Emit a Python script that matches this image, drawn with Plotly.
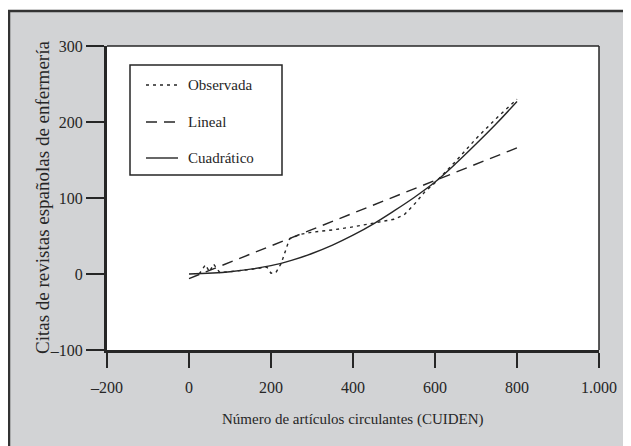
import plotly.graph_objects as go

# ---- data ----
obs_x = [25, 40, 50, 60, 75, 100, 150, 190, 200, 212, 225, 245, 270, 300, 350, 400, 450, 500, 525, 550, 575, 600, 650, 700, 750, 800]
obs_y = [0, 12, 3, 13, 2, 3, 6, 9, 1, 2, 14, 46, 52, 55, 58, 62, 67, 72, 78, 92, 108, 120, 148, 178, 205, 230]

lin_x = [0, 800]
lin_y = [-6, 166]

quad_x = [0, 100, 200, 250, 300, 350, 400, 450, 500, 550, 600, 650, 700, 750, 800]
quad_y = [0, 3, 11, 18, 27, 38, 51, 66, 83, 101, 121, 145, 171, 198, 227]

x_ticks = [-200, 0, 200, 400, 600, 800, 1000]
x_ticktext = ["\u2013200", "0", "200", "400", "600", "800", "1.000"]
y_ticks = [-100, 0, 100, 200, 300]
y_ticktext = ["\u2013100", "0", "100", "200", "300"]

series_names = ["Observada", "Lineal", "Cuadr\u00e1tico"]
x_title = "N\u00famero de art\u00edculos circulantes (CUIDEN)"
y_title = "Citas de revistas espa\u00f1olas de enfermer\u00eda"

# ---- layout constants (page body adds an 8px offset) ----
OFF = 8
W, H = 623, 438
L, R, T, B = 99, 32, 38, 96
PW, PH = W - L - R, H - T - B
INK = "#262626"
FONT = "Liberation Serif"

def px(x):
    # screen pixel x -> paper coordinate
    return (x - OFF - L) / PW

def py(y):
    # screen pixel y -> paper coordinate
    return (T + PH - (y - OFF)) / PH

dot = "3px,4px"
dash = "11px,7px"

fig = go.Figure()
fig.add_trace(go.Scatter(x=obs_x, y=obs_y, mode="lines", name=series_names[0],
                         line=dict(color=INK, width=1.4, dash=dot)))
fig.add_trace(go.Scatter(x=lin_x, y=lin_y, mode="lines", name=series_names[1],
                         line=dict(color=INK, width=1.4, dash=dash)))
fig.add_trace(go.Scatter(x=quad_x, y=quad_y, mode="lines", name=series_names[2],
                         line=dict(color=INK, width=1.4, shape="spline")))

shapes = [
    # grey outer frame
    dict(type="rect", xref="paper", yref="paper", x0=px(9), x1=px(680), y0=py(500), y1=py(11),
         fillcolor="#d2d3d5", line=dict(color="#333333", width=2.5), layer="below"),
    # white plot area
    dict(type="rect", xref="paper", yref="paper", x0=0, x1=1, y0=0, y1=1,
         fillcolor="white", line=dict(width=0), layer="below"),
    # thin top / right border
    dict(type="line", xref="paper", yref="paper", x0=0, x1=1, y0=1, y1=1,
         line=dict(color=INK, width=1.5)),
    dict(type="line", xref="paper", yref="paper", x0=1, x1=1, y0=0, y1=1,
         line=dict(color=INK, width=1.5)),
    # legend box
    dict(type="rect", xref="paper", yref="paper", x0=px(130), x1=px(282), y0=py(175), y1=py(65),
         fillcolor="white", line=dict(color=INK, width=1.5)),
]
leg_y = [85, 122, 158]
leg_dash = [dot, dash, "solid"]
annotations = []
for name, ly, dsh in zip(series_names, leg_y, leg_dash):
    shapes.append(dict(type="line", xref="paper", yref="paper", x0=px(146), x1=px(178),
                       y0=py(ly), y1=py(ly), line=dict(color=INK, width=1.4, dash=dsh)))
    annotations.append(dict(xref="paper", yref="paper", x=px(186), y=py(ly), text=name,
                            showarrow=False, xanchor="left", yanchor="middle",
                            font=dict(family=FONT, size=15, color=INK)))

annotations.append(dict(xref="paper", yref="paper", x=px(353), y=py(420), text=x_title,
                        showarrow=False, xanchor="center", yanchor="middle",
                        font=dict(family=FONT, size=15, color=INK)))
annotations.append(dict(xref="paper", yref="paper", x=px(42), y=py(198), text=y_title,
                        showarrow=False, xanchor="center", yanchor="middle", textangle=-90,
                        font=dict(family=FONT, size=19, color=INK)))

fig.update_layout(
    width=W, height=H,
    margin=dict(l=L, r=R, t=T, b=B, autoexpand=False),
    paper_bgcolor="white",
    plot_bgcolor="rgba(0,0,0,0)",
    showlegend=False,
    font=dict(family=FONT, size=16, color=INK),
    shapes=shapes,
    annotations=annotations,
    xaxis=dict(range=[-200, 1000], tickvals=x_ticks, ticktext=x_ticktext,
               showgrid=False, zeroline=False, showline=True, linewidth=3, linecolor=INK,
               ticks="outside", ticklen=15, tickwidth=1.5, tickcolor=INK,
               ticklabelstandoff=6, tickfont=dict(family=FONT, size=16, color=INK)),
    yaxis=dict(range=[-100, 300], tickvals=y_ticks, ticktext=y_ticktext,
               showgrid=False, zeroline=False, showline=True, linewidth=3, linecolor=INK,
               ticks="outside", ticklen=18, tickwidth=1.5, tickcolor=INK,
               tickfont=dict(family=FONT, size=16, color=INK)),
)

fig.write_html("out.html")
